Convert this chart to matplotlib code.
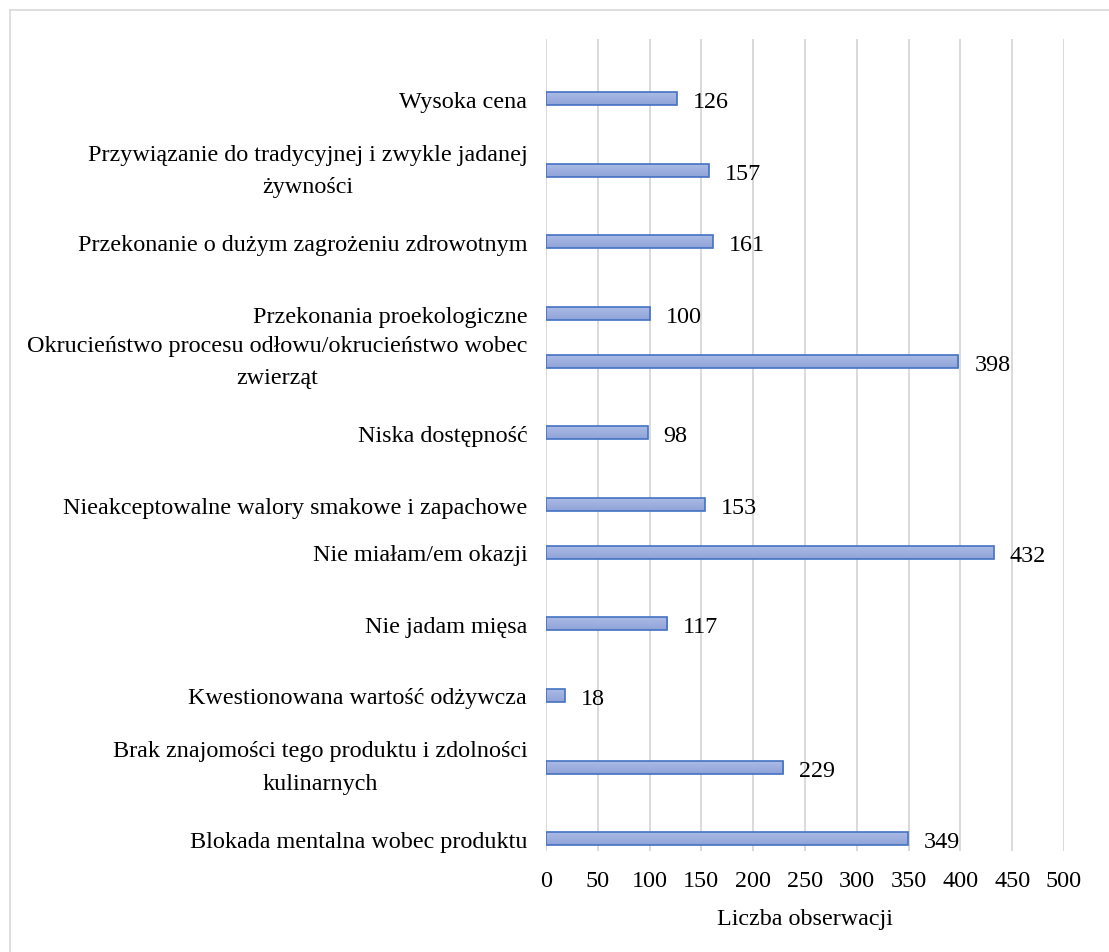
import numpy as np
import matplotlib
matplotlib.use("Agg")
import matplotlib.pyplot as plt
from matplotlib.lines import Line2D
from matplotlib.transforms import ScaledTranslation

plt.rcParams["font.family"] = ["Liberation Serif", "DejaVu Serif"]

# Reasons for not eating the product, top to bottom
categories = [
    "Wysoka cena",
    "Przywiązanie do tradycyjnej i zwykle jadanej\nżywności",
    "Przekonanie o dużym zagrożeniu zdrowotnym",
    "Przekonania proekologiczne",
    "Okrucieństwo procesu odłowu/okrucieństwo wobec\nzwierząt",
    "Niska dostępność",
    "Nieakceptowalne walory smakowe i zapachowe",
    "Nie miałam/em okazji",
    "Nie jadam mięsa",
    "Kwestionowana wartość odżywcza",
    "Brak znajomości tego produktu i zdolności\nkulinarnych",
    "Blokada mentalna wobec produktu",
]
counts = [126, 157, 161, 100, 398, 98, 153, 432, 117, 18, 229, 349]
x_ticks = [0, 50, 100, 150, 200, 250, 300, 350, 400, 450, 500]
x_label = "Liczba obserwacji"

# Row layout (in thirds of a category slot)
row_pos = [0, 3, 6, 9, 11, 14, 17, 19, 22, 25, 28, 31]

FS = 17.4

W, H = 1109, 953
fig = plt.figure(figsize=(W / 100, H / 100), dpi=100)
fig.patch.set_facecolor("white")

left, right, top, bottom = 546, 1064, 40, 852
ax = fig.add_axes([left / W, 1 - bottom / H, (right - left) / W, (bottom - top) / H])

grid_col = "#d9d9d9"
for t in x_ticks:
    ax.axvline(t, color=grid_col, lw=1.4, zorder=0)

bar_h = 0.545
bars = ax.barh(row_pos, counts, height=bar_h, color="none",
               edgecolor="#4472c4", linewidth=1.2, zorder=3)

# vertical gradient fill inside each bar
grad = np.linspace(0, 1, 64).reshape(-1, 1)
cmap = matplotlib.colors.LinearSegmentedColormap.from_list(
    "barfill", ["#aebde6", "#8fa3d8"])
for b in bars:
    x0, y0 = b.get_x(), b.get_y()
    w, h = b.get_width(), b.get_height()
    im = ax.imshow(grad, cmap=cmap, aspect="auto",
                   extent=(x0, x0 + w, y0 + h, y0), zorder=2,
                   interpolation="bilinear")
    im.set_clip_path(b)
ax.set_xlim(0, 500)
ax.set_ylim(31.515, -2.5)

for y, v in zip(row_pos, counts):
    ax.annotate(str(v), xy=(v, y), xytext=(11.5, -0.3), textcoords="offset points",
                ha="left", va="center_baseline", fontsize=FS, color="#000000")

ax.set_yticks(row_pos)
ax.set_yticklabels(categories, fontsize=FS, multialignment="center",
                   linespacing=1.7)
shift_down = ScaledTranslation(0, -2.5 / 100, fig.dpi_scale_trans)
for lbl in ax.get_yticklabels():
    if "\n" in lbl.get_text():
        lbl.set_va("center")
        lbl.set_transform(lbl.get_transform() + shift_down)
ax.set_xticks(x_ticks)
ax.set_xticklabels([str(t) for t in x_ticks], fontsize=FS)
ax.tick_params(axis="both", length=0)
ax.tick_params(axis="y", pad=13.5)
ax.tick_params(axis="x", pad=14)
ax.set_xlabel(x_label, fontsize=FS, labelpad=12)

for s in ax.spines.values():
    s.set_visible(False)

# outer frame of the chart area
fig.add_artist(Line2D([10 / W, 1], [1 - 11 / H, 1 - 11 / H],
                      transform=fig.transFigure, color=grid_col, lw=1.2))
fig.add_artist(Line2D([10 / W, 10 / W], [0, 1 - 11 / H],
                      transform=fig.transFigure, color=grid_col, lw=1.2))

fig.savefig("out.png", dpi=100, facecolor="white")
